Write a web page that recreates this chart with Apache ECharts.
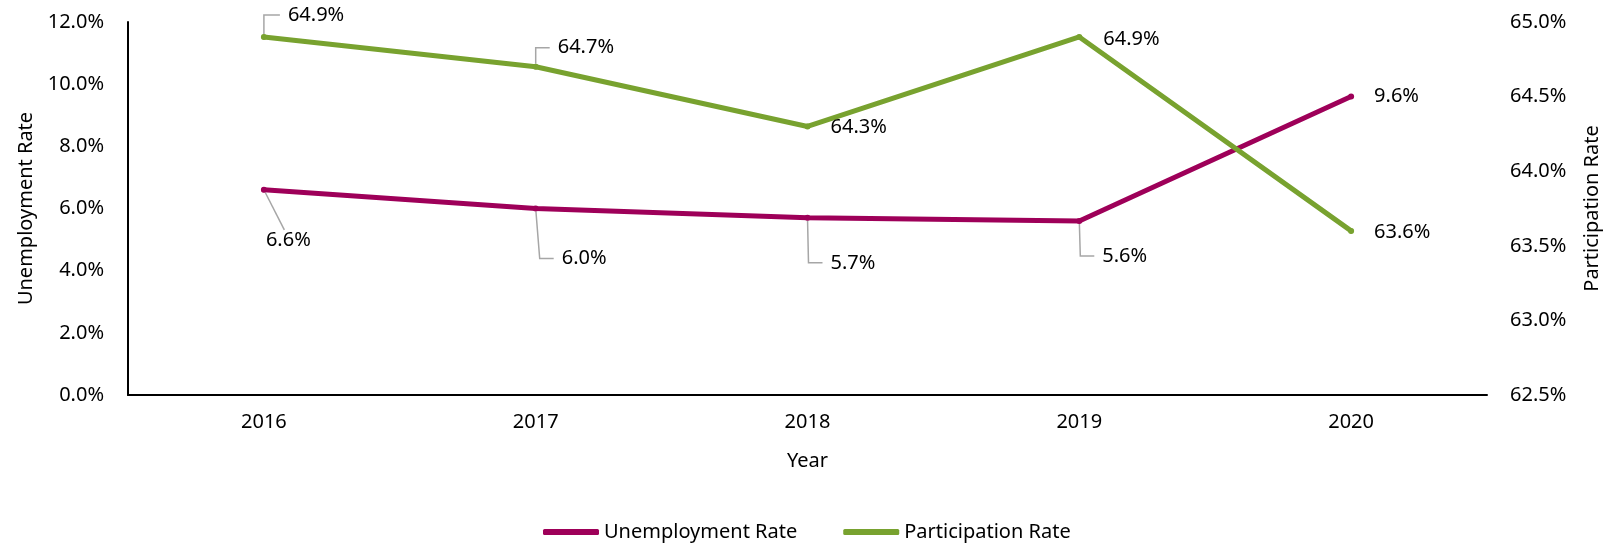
<!DOCTYPE html>
<html>
<head>
<meta charset="utf-8">
<script src="https://cdn.jsdelivr.net/npm/echarts@6/dist/echarts.min.js"></script>
<style>
  html, body { margin: 0; padding: 0; background: #fff; }
  #chart { width: 1607px; height: 546px; }
</style>
</head>
<body>
<div id="chart"></div>
<script>
var years = ['2016', '2017', '2018', '2019', '2020'];
var unemployment = [6.6, 6.0, 5.7, 5.6, 9.6];
var participation = [64.9, 64.7, 64.3, 64.9, 63.6];
var leftTicks = [0, 12, 2];      // min, max, interval
var rightTicks = [62.5, 65, 0.5];

// label nudges [dx, dy, leader length2], leader drawn when moved
var unempShift = [[-21, 50, 0], [3, 50, 14], [0, 45, 14], [0, 35, 14], [0, 0, 0]];
var partShift = [[1, -22, 16], [-1, -19, 14], [0, 1, 0], [1, 2, 0], [0, 1, 0]];

var FONT = '"Noto Sans", "Open Sans", sans-serif';
var pct = function (v) { return v.toFixed(1) + '%'; };

function buildData(values, shift) {
    return values.map(function (v, i) {
        var moved = Math.abs(shift[i][1]) > 5;
        return {
            value: v,
            labelLine: { show: moved, length2: shift[i][2] }
        };
    });
}

function lineSeries(name, values, shift, color, axisIdx) {
    return {
        name: name,
        type: 'line',
        yAxisIndex: axisIdx,
        data: buildData(values, shift),
        symbol: 'circle',
        symbolSize: 6,
        itemStyle: { color: color },
        lineStyle: { color: color, width: 5, cap: 'round', join: 'round' },
        label: {
            show: true,
            position: 'right',
            distance: 12,
            padding: [0, 0, 0, 8],
            backgroundColor: 'rgba(255,255,255,0)',
            color: '#000',
            fontFamily: FONT,
            fontSize: 20,
            formatter: function (p) { return pct(p.value); }
        },
        labelLine: {
            lineStyle: { color: '#A6A6A6', width: 1.5 },
            minTurnAngle: 90
        },
        labelLayout: function (p) {
            return { dx: shift[p.dataIndex][0], dy: shift[p.dataIndex][1] };
        },
        emphasis: { disabled: true }
    };
}

var chart = echarts.init(document.getElementById('chart'));
chart.setOption({
    animation: false,
    textStyle: { fontFamily: FONT },
    grid: {
        left: 128, right: 120, top: 22, bottom: 151,
        containLabel: false,
        outerBoundsMode: 'none'
    },
    legend: {
        data: ['Unemployment Rate', 'Participation Rate'],
        left: 538,
        top: 517,
        icon: 'roundRect',
        itemWidth: 56,
        itemHeight: 6,
        itemGap: 46,
        textStyle: { color: '#000', fontSize: 20, fontFamily: FONT }
    },
    xAxis: {
        type: 'category',
        data: years,
        boundaryGap: true,
        name: 'Year',
        nameLocation: 'middle',
        nameGap: 56,
        nameTextStyle: { color: '#000', fontSize: 20, fontFamily: FONT },
        axisLine: { lineStyle: { color: '#000', width: 2 } },
        axisTick: { show: false },
        axisLabel: { color: '#000', fontSize: 20, fontFamily: FONT, margin: 17 }
    },
    yAxis: [{
        type: 'value',
        min: leftTicks[0], max: leftTicks[1], interval: leftTicks[2],
        name: 'Unemployment Rate',
        nameLocation: 'middle',
        nameGap: 92,
        nameTextStyle: { color: '#000', fontSize: 20, fontFamily: FONT },
        axisLine: { show: true, lineStyle: { color: '#000', width: 2 } },
        axisTick: { show: false },
        splitLine: { show: false },
        axisLabel: { color: '#000', fontSize: 20, fontFamily: FONT, margin: 24, formatter: pct }
    }, {
        type: 'value',
        position: 'right',
        min: rightTicks[0], max: rightTicks[1], interval: rightTicks[2],
        name: 'Participation Rate',
        nameLocation: 'middle',
        nameGap: 95,
        nameTextStyle: { color: '#000', fontSize: 20, fontFamily: FONT },
        axisLine: { show: false },
        axisTick: { show: false },
        splitLine: { show: false },
        axisLabel: { color: '#000', fontSize: 20, fontFamily: FONT, margin: 23, formatter: pct }
    }],
    series: [
        lineSeries('Unemployment Rate', unemployment, unempShift, '#9E0059', 0),
        lineSeries('Participation Rate', participation, partShift, '#78A22F', 1)
    ]
});
</script>
</body>
</html>
